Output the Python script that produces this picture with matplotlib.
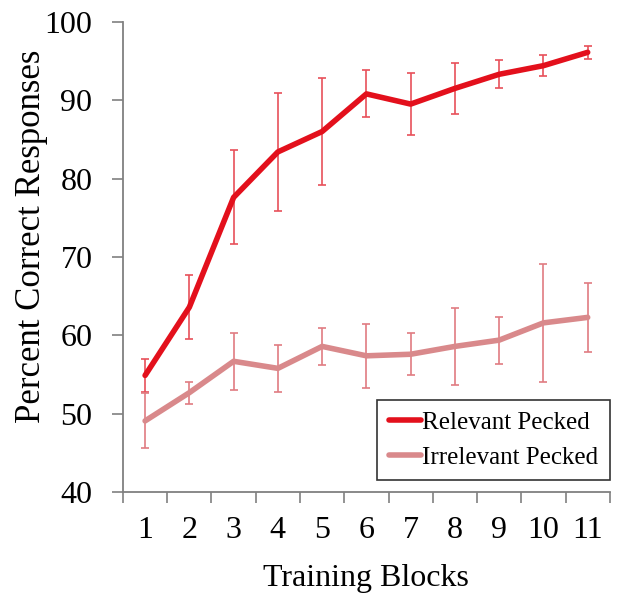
import matplotlib
matplotlib.use("Agg")
import matplotlib.pyplot as plt

blocks = [1, 2, 3, 4, 5, 6, 7, 8, 9, 10, 11]
relevant = [54.9, 63.6, 77.6, 83.4, 86.0, 90.8, 89.5, 91.5, 93.3, 94.4, 96.1]
relevant_err = [2.1, 4.1, 6.0, 7.5, 6.8, 3.0, 4.0, 3.3, 1.8, 1.3, 0.8]
irrelevant = [49.1, 52.7, 56.7, 55.8, 58.6, 57.4, 57.6, 58.6, 59.4, 61.6, 62.3]
irrelevant_err = [3.5, 1.4, 3.6, 3.0, 2.4, 4.1, 2.7, 4.9, 3.0, 7.5, 4.4]

plt.rcParams['font.family'] = ['Liberation Serif', 'DejaVu Serif']

fig = plt.figure(figsize=(6.21, 6.04), dpi=100)
ax = fig.add_axes([0.198, 0.185, 0.784, 0.779])

# error bars first, lines on top
ax.errorbar(blocks, relevant, yerr=relevant_err, fmt='none', ecolor='#e8505a',
            elinewidth=1.2, capsize=3, capthick=1.2)
ax.errorbar(blocks, irrelevant, yerr=irrelevant_err, fmt='none', ecolor='#e07c82',
            elinewidth=1.2, capsize=3, capthick=1.2)
ax.plot(blocks, relevant, color='#e3101c', lw=4, label='Relevant Pecked',
        solid_capstyle='round')
ax.plot(blocks, irrelevant, color='#d9898b', lw=4, label='Irrelevant Pecked',
        solid_capstyle='round')

ax.set_xlim(0.5, 11.5)
ax.set_ylim(40, 100)
ax.set_yticks(range(40, 101, 10))
ax.set_xticks([b - 0.5 for b in blocks] + [11.5])
ax.set_xticklabels([])
ax.set_xticks(blocks, minor=True)
ax.set_xticklabels([str(b) for b in blocks], minor=True)
ax.tick_params(axis='x', which='minor', length=0, labelsize=23, pad=17)
ax.tick_params(axis='x', which='major', length=8, width=1.2, color='#808080')
ax.tick_params(axis='y', length=8, width=1.2, color='#808080', labelsize=23, pad=14)

for s in ['top', 'right']:
    ax.spines[s].set_visible(False)
for s in ['left', 'bottom']:
    ax.spines[s].set_color('#808080')
    ax.spines[s].set_linewidth(1.3)

ax.set_xlabel('Training Blocks', fontsize=23, labelpad=14)
ax.set_ylabel('Percent Correct Responses', fontsize=25, va='center')
ax.yaxis.set_label_coords(-0.187, 0.545)

leg = ax.legend(loc='lower right', fontsize=18, frameon=True, fancybox=False,
                edgecolor='black', handlelength=1.3, handletextpad=0.05,
                borderpad=0.45, borderaxespad=0, bbox_to_anchor=(1.0, 0.025))
leg.get_frame().set_linewidth(1.2)

fig.savefig('out.png', dpi=100)
